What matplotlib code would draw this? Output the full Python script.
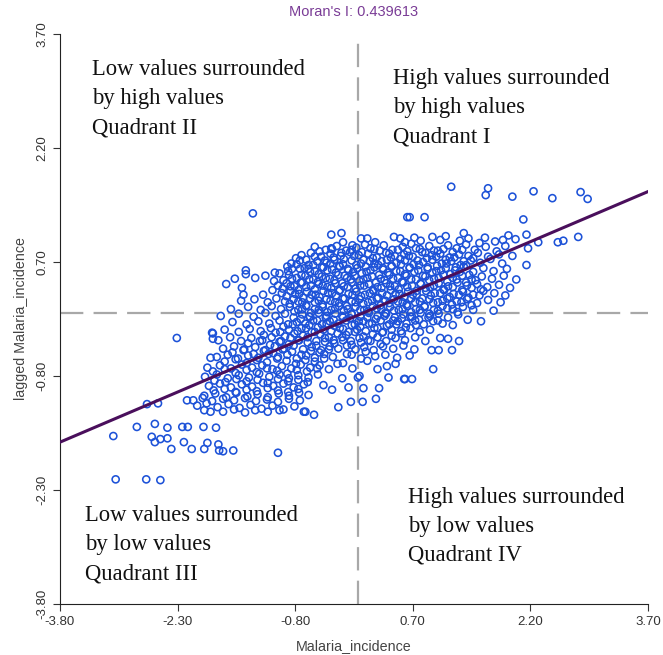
import matplotlib
matplotlib.use("Agg")
import matplotlib.pyplot as plt
import numpy as np

# ---------------- data ----------------
morans_i = 0.439613
tick_values = [-3.80, -2.30, -0.80, 0.70, 2.20, 3.70]
tick_labels = ["-3.80", "-2.30", "-0.80", "0.70", "2.20", "3.70"]

pts_top = [(-1.34, 1.34), (-0.34, 1.06), (-0.21, 1.08), (-0.34, 0.88), (-0.19, 0.96), (-0.07, 0.92),
           (0.04, 1.01), (0.12, 1.01), (0.22, 0.96), (0.46, 1.03), (0.54, 1.01), (0.63, 1.29),
           (0.66, 1.29), (0.85, 1.29), (0.72, 1.02), (0.80, 0.98), (0.95, 1.03), (1.05, 0.99),
           (1.12, 1.04), (1.30, 0.98), (1.41, 1.01), (1.55, 0.95), (1.62, 1.02), (1.75, 0.97),
           (1.85, 0.99), (1.92, 1.05), (1.35, 1.08), (0.60, 0.96)]

pts_upper_right = [(1.19, 1.69), (1.66, 1.67), (1.63, 1.58), (1.97, 1.56), (2.24, 1.63), (2.48, 1.54),
                   (2.84, 1.62), (2.93, 1.53), (2.11, 1.26), (2.01, 1.00), (2.15, 1.06), (2.17, 0.88),
                   (2.30, 0.96), (2.55, 0.96), (2.62, 0.98), (2.81, 1.03), (2.15, 0.66)]

pts_band_high = [
    (-0.55, 0.90), (-0.41, 0.86), (-0.27, 0.91), (-0.15, 0.85), (-0.02, 0.89), (0.09, 0.93), (0.21, 0.87),
    (0.33, 0.92), (0.44, 0.86), (0.57, 0.90), (0.68, 0.94), (0.79, 0.87), (0.91, 0.91), (1.02, 0.85),
    (1.15, 0.92), (1.26, 0.88), (1.38, 0.93), (1.49, 0.86), (1.63, 0.90), (1.77, 0.84), (1.88, 0.91),
    (-0.72, 0.79), (-0.60, 0.82), (-0.47, 0.77), (-0.35, 0.81), (-0.22, 0.78), (-0.10, 0.83), (0.01, 0.79),
    (0.13, 0.81), (0.24, 0.76), (0.36, 0.82), (0.47, 0.78), (0.59, 0.80), (0.70, 0.77), (0.82, 0.83),
    (0.94, 0.79), (1.05, 0.81), (1.17, 0.76), (1.29, 0.80), (1.41, 0.78), (1.53, 0.82), (1.66, 0.77),
    (1.80, 0.80), (1.97, 0.78),
    (-0.85, 0.68), (-0.74, 0.72), (-0.63, 0.66), (-0.52, 0.71), (-0.40, 0.69), (-0.30, 0.73), (-0.19, 0.67),
    (-0.08, 0.72), (0.04, 0.68), (0.15, 0.71), (0.26, 0.66), (0.37, 0.73), (0.49, 0.69), (0.60, 0.72),
    (0.71, 0.67), (0.83, 0.70), (0.95, 0.73), (1.07, 0.68), (1.19, 0.71), (1.31, 0.66), (1.44, 0.72),
    (1.56, 0.69), (1.69, 0.74), (1.84, 0.68),
    (-0.84, 0.61), (-0.74, 0.61), (-0.63, 0.61), (-0.55, 0.58), (-0.44, 0.63), (-0.33, 0.60), (-0.23, 0.64),
    (-0.12, 0.59), (-0.01, 0.62), (0.11, 0.57), (0.21, 0.63), (0.32, 0.60), (0.43, 0.64), (0.54, 0.58),
    (0.66, 0.62), (0.77, 0.59), (0.89, 0.63), (1.00, 0.58), (1.12, 0.62), (1.24, 0.59), (1.35, 0.64),
    (1.47, 0.57), (1.60, 0.62), (1.73, 0.58), (1.90, 0.61), (-1.43, 0.59), (-1.43, 0.54), (-1.06, 0.56),
]

pts_band_mid = [
    (-1.57, 0.48), (-1.31, 0.49), (-1.18, 0.52), (-0.95, 0.46), (-0.88, 0.53), (-0.78, 0.49), (-0.67, 0.52),
    (-0.57, 0.47), (-0.46, 0.51), (-0.36, 0.48), (-0.25, 0.53), (-0.14, 0.49), (-0.04, 0.52), (0.07, 0.47),
    (0.18, 0.51), (0.29, 0.48), (0.40, 0.53), (0.51, 0.49), (0.62, 0.52), (0.74, 0.47), (0.86, 0.51),
    (0.97, 0.48), (1.09, 0.53), (1.21, 0.49), (1.33, 0.52), (1.45, 0.47), (1.58, 0.51), (1.71, 0.48),
    (1.86, 0.52), (2.02, 0.47),
    (-1.68, 0.41), (-1.48, 0.36), (-1.02, 0.39), (-0.91, 0.42), (-0.81, 0.38), (-0.71, 0.43), (-0.60, 0.39),
    (-0.50, 0.41), (-0.39, 0.37), (-0.29, 0.42), (-0.18, 0.38), (-0.08, 0.43), (0.03, 0.39), (0.14, 0.41),
    (0.25, 0.37), (0.36, 0.42), (0.47, 0.38), (0.58, 0.43), (0.69, 0.39), (0.80, 0.41), (0.92, 0.37),
    (1.03, 0.42), (1.15, 0.38), (1.27, 0.43), (1.39, 0.39), (1.52, 0.41), (1.65, 0.37), (1.80, 0.40),
    (1.94, 0.36),
    (-1.46, 0.27), (-1.21, 0.27), (-1.09, 0.33), (-0.97, 0.29), (-0.86, 0.32), (-0.75, 0.28), (-0.65, 0.31),
    (-0.54, 0.27), (-0.44, 0.32), (-0.33, 0.29), (-0.23, 0.33), (-0.12, 0.28), (-0.02, 0.31), (0.09, 0.27),
    (0.20, 0.32), (0.31, 0.29), (0.42, 0.33), (0.53, 0.28), (0.64, 0.31), (0.75, 0.27), (0.87, 0.32),
    (0.98, 0.29), (1.10, 0.33), (1.22, 0.28), (1.34, 0.31), (1.47, 0.27), (1.60, 0.32), (1.74, 0.29),
    (1.88, 0.26),
    (-1.49, 0.19), (-1.32, 0.21), (-1.15, 0.17), (-1.04, 0.22), (-0.93, 0.18), (-0.82, 0.21), (-0.71, 0.17),
    (-0.61, 0.22), (-0.50, 0.19), (-0.40, 0.21), (-0.29, 0.17), (-0.19, 0.22), (-0.08, 0.18), (0.02, 0.21),
    (0.13, 0.17), (0.24, 0.22), (0.35, 0.19), (0.46, 0.21), (0.57, 0.17), (0.68, 0.22), (0.79, 0.18),
    (0.91, 0.21), (1.02, 0.17), (1.14, 0.22), (1.26, 0.18), (1.39, 0.21), (1.52, 0.16), (1.66, 0.20),
    (1.82, 0.17),
    (-1.62, 0.08), (-1.40, 0.11), (-1.24, 0.07), (-1.10, 0.12), (-0.98, 0.08), (-0.87, 0.11), (-0.76, 0.07),
    (-0.66, 0.12), (-0.55, 0.08), (-0.45, 0.11), (-0.34, 0.07), (-0.24, 0.12), (-0.13, 0.08), (-0.03, 0.11),
    (0.08, 0.07), (0.19, 0.12), (0.30, 0.08), (0.41, 0.11), (0.52, 0.07), (0.63, 0.12), (0.74, 0.08),
    (0.85, 0.11), (0.97, 0.07), (1.08, 0.12), (1.21, 0.08), (1.34, 0.11), (1.47, 0.07), (1.73, 0.06),
]

pts_band_low = [
    (-1.75, -0.01), (-1.52, 0.02), (-1.33, -0.02), (-1.18, 0.03), (-1.05, -0.01), (-0.93, 0.02),
    (-0.82, -0.03), (-0.71, 0.01), (-0.61, -0.02), (-0.50, 0.03), (-0.40, -0.01), (-0.29, 0.02),
    (-0.19, -0.03), (-0.08, 0.01), (0.03, -0.02), (0.14, 0.03), (0.25, -0.01), (0.36, 0.02), (0.47, -0.03),
    (0.58, 0.01), (0.69, -0.02), (0.80, 0.03), (0.92, -0.01), (1.03, 0.02), (1.15, -0.03), (1.28, 0.01),
    (1.40, -0.06), (1.57, -0.08),
    (-1.86, -0.23), (-1.60, -0.09), (-1.42, -0.12), (-1.27, -0.08), (-1.13, -0.11), (-1.00, -0.07),
    (-0.89, -0.12), (-0.78, -0.09), (-0.67, -0.11), (-0.57, -0.07), (-0.46, -0.12), (-0.36, -0.08),
    (-0.25, -0.11), (-0.15, -0.07), (-0.04, -0.12), (0.07, -0.08), (0.18, -0.11), (0.29, -0.07),
    (0.40, -0.12), (0.51, -0.08), (0.62, -0.11), (0.73, -0.07), (0.84, -0.12), (0.96, -0.08), (1.08, -0.11),
    (1.21, -0.13),
    (-2.31, -0.30), (-1.85, -0.31), (-1.85, -0.24), (-1.70, -0.19), (-1.52, -0.22), (-1.38, -0.18),
    (-1.24, -0.21), (-1.11, -0.17), (-0.99, -0.22), (-0.88, -0.19), (-0.77, -0.21), (-0.66, -0.17),
    (-0.55, -0.22), (-0.44, -0.19), (-0.34, -0.21), (-0.23, -0.17), (-0.12, -0.22), (-0.01, -0.19),
    (0.10, -0.21), (0.21, -0.17), (0.32, -0.22), (0.43, -0.19), (0.55, -0.21), (0.67, -0.17), (0.79, -0.22),
    (0.92, -0.19), (1.05, -0.30), (1.15, -0.31), (1.29, -0.34),
    (-1.78, -0.33), (-1.63, -0.29), (-1.49, -0.34), (-1.36, -0.30), (-1.22, -0.33), (-1.10, -0.29),
    (-0.98, -0.34), (-0.86, -0.30), (-0.75, -0.33), (-0.64, -0.29), (-0.53, -0.34), (-0.42, -0.30),
    (-0.31, -0.33), (-0.20, -0.29), (-0.09, -0.34), (0.02, -0.30), (0.13, -0.33), (0.25, -0.29),
    (0.36, -0.34), (0.48, -0.30), (0.60, -0.33), (0.73, -0.29), (0.86, -0.34),
    (-1.88, -0.56), (-1.72, -0.44), (-1.58, -0.41), (-1.45, -0.45), (-1.31, -0.42), (-1.18, -0.46),
    (-1.06, -0.41), (-0.94, -0.44), (-0.82, -0.40), (-0.70, -0.45), (-0.59, -0.42), (-0.47, -0.46),
    (-0.36, -0.41), (-0.25, -0.44), (-0.14, -0.40), (-0.03, -0.45), (0.08, -0.42), (0.20, -0.46),
    (0.32, -0.41), (0.45, -0.44), (0.58, -0.40), (0.72, -0.45), (0.94, -0.46), (1.03, -0.46), (1.20, -0.46),
]

pts_lower = [
    (-1.80, -0.55), (-1.66, -0.52), (-1.53, -0.57), (-1.40, -0.53), (-1.27, -0.56), (-1.14, -0.51),
    (-1.02, -0.55), (-0.90, -0.52), (-0.78, -0.57), (-0.66, -0.53), (-0.55, -0.56), (-0.43, -0.51),
    (-0.32, -0.55), (-0.19, -0.63), (-0.26, -0.64), (-0.08, -0.52), (0.04, -0.57), (0.12, -0.60),
    (0.22, -0.54), (0.35, -0.52), (0.50, -0.56), (0.66, -0.53),
    (-1.92, -0.69), (-1.76, -0.66), (-1.62, -0.70), (-1.48, -0.65), (-1.35, -0.69), (-1.22, -0.66),
    (-1.09, -0.71), (-0.97, -0.67), (-0.85, -0.70), (-0.73, -0.65), (-0.61, -0.69), (-0.49, -0.66),
    (-0.37, -0.71), (-0.07, -0.70), (0.25, -0.71), (0.37, -0.67), (0.48, -0.64), (0.96, -0.71),
    (-1.95, -0.81), (-1.80, -0.78), (-1.66, -0.83), (-1.52, -0.79), (-1.39, -0.82), (-1.26, -0.77),
    (-1.13, -0.81), (-1.00, -0.78), (-0.88, -0.83), (-0.76, -0.79), (-0.63, -0.82), (-0.51, -0.78),
    (-0.20, -0.83), (0.00, -0.82), (0.02, -0.80), (0.39, -0.82), (0.60, -0.84), (0.59, -0.84), (0.69, -0.84),
    (-1.90, -0.93), (-1.76, -0.90), (-1.62, -0.95), (-1.48, -0.91), (-1.35, -0.94), (-1.21, -0.89),
    (-1.08, -0.93), (-0.95, -0.90), (-0.82, -0.95), (-0.69, -0.91), (-0.44, -0.92), (-0.33, -0.98),
    (-0.12, -0.95), (0.07, -0.96), (0.27, -0.96),
    (-1.96, -1.06), (-1.82, -1.03), (-1.68, -1.08), (-1.55, -1.02), (-1.41, -1.07), (-1.28, -1.04),
    (-1.15, -1.08), (-1.01, -1.03), (-0.88, -1.06), (-0.75, -1.02), (-0.63, -1.05), (-0.09, -1.14),
    (0.06, -1.14), (0.23, -1.10),
    (-2.18, -1.12), (-2.05, -1.19), (-1.88, -1.27), (-1.93, -1.16), (-1.79, -1.21), (-1.65, -1.17),
    (-1.51, -1.22), (-1.37, -1.18), (-1.23, -1.23), (-1.09, -1.19), (-0.95, -1.24), (-0.81, -1.20),
    (-0.69, -1.27), (-0.56, -1.31), (-0.25, -1.21),
]

pts_lower_left = [(-3.12, -1.59), (-2.82, -1.47), (-2.59, -1.43), (-2.43, -1.48), (-2.24, -1.47),
                  (-2.17, -1.47), (-1.97, -1.47), (-1.81, -1.48), (-2.63, -1.60), (-2.52, -1.63),
                  (-2.43, -1.62), (-2.59, -1.67), (-2.38, -1.76), (-2.22, -1.67), (-2.12, -1.76),
                  (-1.96, -1.76), (-1.92, -1.68), (-1.78, -1.70), (-1.77, -1.78), (-1.72, -1.79),
                  (-1.59, -1.78), (-3.09, -2.16), (-2.70, -2.16), (-2.52, -2.17), (-2.69, -1.17),
                  (-2.55, -1.16), (-1.02, -1.81), (-0.67, -1.27)]

pts_core_dense = [
    (-0.49, 0.84), (-0.33, 0.87), (-0.21, 0.82), (-0.08, 0.86), (0.05, 0.83), (0.16, 0.88), (0.28, 0.85),
    (0.40, 0.81), (0.51, 0.86), (0.63, 0.84), (0.74, 0.88), (0.86, 0.82), (0.97, 0.85), (1.09, 0.87),
    (1.21, 0.83), (1.33, 0.86),
    (-0.79, 0.75), (-0.66, 0.73), (-0.55, 0.77), (-0.42, 0.72), (-0.31, 0.76), (-0.18, 0.74), (-0.05, 0.78),
    (0.07, 0.73), (0.19, 0.75), (0.30, 0.71), (0.42, 0.76), (0.54, 0.74), (0.65, 0.78), (0.76, 0.72),
    (0.88, 0.75), (1.00, 0.77), (1.12, 0.73), (1.23, 0.76), (1.35, 0.71), (1.47, 0.75),
    (-0.90, 0.64), (-0.78, 0.67), (-0.68, 0.62), (-0.57, 0.66), (-0.46, 0.63), (-0.35, 0.68), (-0.24, 0.65),
    (-0.13, 0.61), (-0.02, 0.66), (0.10, 0.64), (0.21, 0.68), (0.32, 0.62), (0.43, 0.65), (0.55, 0.67),
    (0.66, 0.63), (0.78, 0.66), (0.89, 0.61), (1.01, 0.65), (1.13, 0.68), (1.25, 0.63), (1.38, 0.66),
    (-1.00, 0.55), (-0.89, 0.58), (-0.72, 0.53), (-0.61, 0.57), (-0.50, 0.54), (-0.39, 0.59), (-0.28, 0.56),
    (-0.17, 0.52), (-0.06, 0.57), (0.05, 0.55), (0.16, 0.59), (0.27, 0.53), (0.38, 0.56), (0.49, 0.58),
    (0.60, 0.54), (0.72, 0.57), (0.83, 0.52), (0.95, 0.56), (1.06, 0.59), (1.18, 0.54), (1.30, 0.57),
    (1.42, 0.53),
    (-1.07, 0.45), (-0.84, 0.48), (-0.73, 0.43), (-0.62, 0.47), (-0.51, 0.44), (-0.41, 0.49), (-0.30, 0.46),
    (-0.20, 0.42), (-0.09, 0.47), (0.02, 0.45), (0.12, 0.49), (0.23, 0.43), (0.34, 0.46), (0.45, 0.48),
    (0.56, 0.44), (0.68, 0.47), (0.80, 0.42), (0.91, 0.46), (1.03, 0.49), (1.14, 0.44), (1.26, 0.47),
    (1.38, 0.43), (1.50, 0.46),
    (-0.96, 0.35), (-0.86, 0.38), (-0.76, 0.33), (-0.66, 0.37), (-0.55, 0.34), (-0.45, 0.39), (-0.34, 0.36),
    (-0.24, 0.32), (-0.13, 0.37), (-0.03, 0.35), (0.08, 0.39), (0.19, 0.33), (0.30, 0.36), (0.41, 0.38),
    (0.52, 0.34), (0.63, 0.37), (0.75, 0.32), (0.86, 0.36), (0.97, 0.39), (1.09, 0.34), (1.21, 0.37),
    (1.33, 0.33), (1.45, 0.36), (1.57, 0.34),
    (-0.91, 0.25), (-0.80, 0.28), (-0.70, 0.23), (-0.59, 0.27), (-0.49, 0.24), (-0.38, 0.29), (-0.28, 0.26),
    (-0.17, 0.22), (-0.07, 0.27), (0.04, 0.25), (0.15, 0.29), (0.26, 0.23), (0.37, 0.26), (0.48, 0.28),
    (0.59, 0.24), (0.70, 0.27), (0.82, 0.22), (0.93, 0.26), (1.05, 0.29), (1.17, 0.24), (1.29, 0.27),
    (1.41, 0.23), (1.55, 0.26),
    (-0.87, 0.15), (-0.76, 0.18), (-0.66, 0.13), (-0.55, 0.17), (-0.45, 0.14), (-0.35, 0.19), (-0.24, 0.16),
    (-0.14, 0.12), (-0.03, 0.17), (0.07, 0.15), (0.18, 0.19), (0.29, 0.13), (0.40, 0.16), (0.51, 0.18),
    (0.62, 0.14), (0.73, 0.17), (0.85, 0.12), (0.96, 0.16), (1.08, 0.19), (1.20, 0.14), (1.32, 0.17),
    (1.45, 0.13),
    (-0.81, 0.05), (-0.71, 0.08), (-0.60, 0.03), (-0.50, 0.07), (-0.39, 0.04), (-0.29, 0.09), (-0.18, 0.06),
    (-0.08, 0.02), (0.03, 0.07), (0.13, 0.05), (0.24, 0.09), (0.35, 0.03), (0.46, 0.06), (0.57, 0.08),
    (0.68, 0.04), (0.79, 0.07), (0.91, 0.02), (1.02, 0.06), (1.14, 0.09), (1.27, 0.04),
    (-0.73, -0.05), (-0.62, -0.02), (-0.52, -0.07), (-0.41, -0.03), (-0.31, -0.06), (-0.20, -0.01),
    (-0.10, -0.04), (0.01, -0.08), (0.12, -0.03), (0.23, -0.05), (0.34, -0.01), (0.45, -0.07), (0.56, -0.04),
    (0.67, -0.02), (0.78, -0.06), (0.90, -0.03), (1.02, -0.07),
    (-0.95, -0.15), (-0.83, -0.12), (-0.72, -0.17), (-0.62, -0.13), (-0.51, -0.16), (-0.40, -0.11),
    (-0.30, -0.14), (-0.19, -0.18), (-0.08, -0.13), (0.03, -0.15), (0.14, -0.11), (0.25, -0.17),
    (0.37, -0.14), (0.49, -0.12), (0.61, -0.16), (0.74, -0.13),
]

pts_mid_dense = [
    (-1.20, -0.26), (-1.05, -0.23), (-0.93, -0.28), (-0.81, -0.24), (-0.70, -0.27), (-0.59, -0.22),
    (-0.48, -0.25), (-0.37, -0.29), (-0.26, -0.24), (-0.15, -0.26), (-0.04, -0.22), (0.07, -0.28),
    (0.19, -0.25), (0.31, -0.23), (0.43, -0.27), (0.56, -0.24),
    (-1.40, -0.37), (-1.25, -0.34), (-1.12, -0.39), (-1.00, -0.35), (-0.88, -0.38), (-0.76, -0.33),
    (-0.64, -0.36), (-0.53, -0.40), (-0.42, -0.35), (-0.30, -0.37), (-0.19, -0.33), (-0.08, -0.39),
    (0.04, -0.36), (0.16, -0.34), (0.29, -0.38),
    (-1.60, -0.49), (-1.46, -0.46), (-1.33, -0.51), (-1.20, -0.47), (-1.08, -0.50), (-0.96, -0.45),
    (-0.84, -0.48), (-0.72, -0.52), (-0.60, -0.47), (-0.49, -0.49), (-0.37, -0.45), (-0.14, -0.51),
    (0.10, -0.48),
    (-1.70, -0.61), (-1.56, -0.58), (-1.42, -0.63), (-1.29, -0.59), (-1.16, -0.62), (-1.03, -0.57),
    (-0.91, -0.60), (-0.79, -0.64), (-0.67, -0.59), (-0.55, -0.61), (-0.43, -0.57),
    (-1.85, -0.74), (-1.70, -0.71), (-1.56, -0.76), (-1.42, -0.72), (-1.29, -0.75), (-1.16, -0.70),
    (-1.03, -0.73), (-0.90, -0.77), (-0.78, -0.72), (-0.65, -0.74), (-0.52, -0.70),
    (-1.83, -0.86), (-1.69, -0.88), (-1.55, -0.84), (-1.42, -0.87), (-1.28, -0.85), (-1.15, -0.89),
    (-1.02, -0.84), (-0.89, -0.87), (-0.76, -0.85), (-0.64, -0.88),
    (-1.84, -0.99), (-1.70, -0.97), (-1.56, -1.01), (-1.42, -0.98), (-1.29, -1.00), (-1.15, -0.96),
    (-1.02, -0.99), (-0.89, -1.01), (-0.76, -0.97),
    (-2.10, -1.12), (-1.98, -1.09), (-1.86, -1.13), (-1.72, -1.10), (-1.58, -1.12), (-1.44, -1.09),
    (-1.30, -1.13), (-1.16, -1.11), (-1.02, -1.14), (-0.88, -1.10), (-0.74, -1.12),
    (-1.96, -1.25), (-1.72, -1.27), (-1.58, -1.24), (-1.44, -1.28), (-1.31, -1.25), (-1.15, -1.27),
    (-1.00, -1.25),
]

groups = [pts_top, pts_upper_right, pts_band_high, pts_band_mid, pts_band_low, pts_lower,
          pts_lower_left, pts_core_dense, pts_mid_dense]
all_pts = [p for g in groups for p in g]
malaria_x = [p[0] for p in all_pts]
lagged_y = [p[1] for p in all_pts]

# ---------------- plot ----------------
plt.rcParams['font.family'] = ['Liberation Sans', 'DejaVu Sans']
fig = plt.figure(figsize=(6.63, 6.55), dpi=100)
ax = fig.add_axes([60 / 663, 51 / 655, 588 / 663, 570 / 655])
ax.set_xlim(-3.8, 3.7)
ax.set_ylim(-3.8, 3.7)

ax.axvline(0, color='#a8a8a8', lw=1.6, dashes=(10.5, 4.6), zorder=1)
ax.axhline(0.03, color='#a8a8a8', lw=1.6, dashes=(10.5, 4.6), zorder=1)

ax.scatter(malaria_x, lagged_y, s=26, facecolors='none', edgecolors='#1d52d8', linewidths=1.15, zorder=2)

lx = np.array([-3.8, 3.7])
ax.plot(lx, morans_i * lx, color='#4a0f5c', lw=2.2, zorder=3)

for s in ['top', 'right']:
    ax.spines[s].set_visible(False)
ax.spines['left'].set_color('#222222')
ax.spines['bottom'].set_color('#222222')
ax.set_xticks(tick_values)
ax.set_xticklabels(tick_labels)
ax.set_yticks(tick_values)
ax.set_yticklabels(tick_labels, rotation=90, va='center')
ax.tick_params(labelsize=9.5, colors='#333333', length=5)
ax.set_xlabel('Malaria_incidence', fontsize=10.3, color='#444444', labelpad=8)
ax.set_ylabel('lagged Malaria_incidence', fontsize=10.3, color='#444444', labelpad=6)
ax.set_title("Moran's I: 0.439613", fontsize=10.5, color='#7a3c96', pad=13)

serif = ['Liberation Serif', 'DejaVu Serif']
qkw = dict(family=serif, fontsize=16.3, color='#111111', va='top', ha='left', linespacing=1.5)
ax.text(-3.39, 3.37, 'Low values surrounded\nby high values\nQuadrant II', **qkw)
ax.text(0.45, 3.25, 'High values surrounded\nby high values\nQuadrant I', **qkw)
ax.text(-3.48, -2.50, 'Low values surrounded\nby low values\nQuadrant III', **qkw)
ax.text(0.64, -2.26, 'High values surrounded\nby low values\nQuadrant IV', **qkw)

fig.savefig('out.png', dpi=100)
